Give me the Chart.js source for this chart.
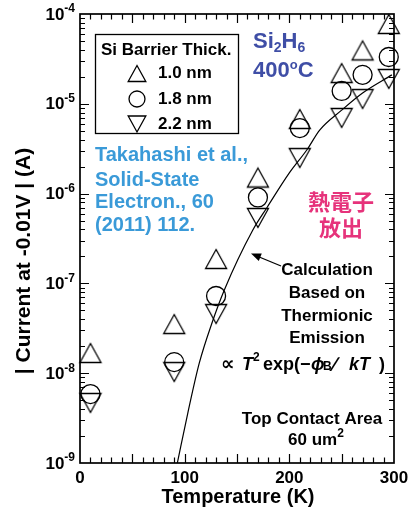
<!DOCTYPE html>
<html>
<head>
<meta charset="utf-8">
<script src="https://cdn.jsdelivr.net/npm/chart.js@4"></script>
<style>
  html, body { margin: 0; padding: 0; background: #fff; }
  canvas { display: block; }
</style>
</head>
<body>
<canvas id="chart" width="409" height="515"></canvas>
<script>
// Measurement temperatures (K)
const temperatures = [10, 90, 130, 170, 210, 250, 270, 295];
// |I| at -0.01 V (A) for each Si barrier thickness
const current10nm = [1.68e-8, 3.53e-8, 1.87e-7, 1.51e-6, 6.78e-6, 2.20e-5, 3.93e-5, 7.74e-5];
const current18nm = [5.86e-9, 1.33e-8, 7.24e-8, 9.06e-7, 5.37e-6, 1.39e-5, 2.10e-5, 3.32e-5];
const current22nm = [4.66e-9, 1.03e-8, 4.56e-8, 5.35e-7, 2.49e-6, 6.95e-6, 1.13e-5, 1.89e-5];
// Thermionic-emission calculation curve
const calcTemperatures = [93, 103, 114, 126, 138, 165, 179, 200, 217, 229, 250, 270, 298];
const calcCurrent = [1.0e-9, 3.6e-9, 1.3e-8, 3.6e-8, 8.5e-8, 3.9e-7, 7.1e-7, 1.7e-6, 3.1e-6, 5.1e-6, 8.5e-6, 1.32e-5, 2.1e-5];

const seriesLabels = ['1.0 nm', '1.8 nm', '2.2 nm'];
const legendTitle = 'Si Barrier Thick.';
const xTickValues = [0, 100, 200, 300];
const yTickExponents = [-4, -5, -6, -7, -8, -9];
const xAxisTitle = 'Temperature (K)';
const yAxisTitle = '| Current at -0.01V | (A)';

const FONT = '"Liberation Sans", Arial, "DejaVu Sans", sans-serif';
const CJK = '"Noto Sans CJK JP", "Noto Sans CJK SC", sans-serif';

function toPoints(xs, ys) { return xs.map((x, i) => ({ x: x, y: ys[i] })); }

// marker outlines drawn centred on their bounding box
function markerPath(g, kind, cx, cy, s) {
  const w = 21 * s, h = 19 * s, r = 9.5 * s;
  g.beginPath();
  if (kind === 'up') {
    g.moveTo(cx, cy - h / 2); g.lineTo(cx + w / 2, cy + h / 2); g.lineTo(cx - w / 2, cy + h / 2);
    g.closePath();
  } else if (kind === 'down') {
    g.moveTo(cx - w / 2, cy - h / 2); g.lineTo(cx + w / 2, cy - h / 2); g.lineTo(cx, cy + h / 2);
    g.closePath();
  } else {
    g.arc(cx, cy, r, 0, Math.PI * 2);
  }
}
function markerImage(kind) {
  const c = document.createElement('canvas');
  c.width = 26; c.height = 24;
  const g = c.getContext('2d');
  g.lineWidth = 1.3; g.strokeStyle = '#000'; g.lineJoin = 'miter';
  markerPath(g, kind, 13, 12, 1);
  g.stroke();
  return c;
}
const upImg = markerImage('up');
const downImg = markerImage('down');

function drawRich(ctx, parts, x, y) {
  // parts: [text, font, dy]
  let cx = x;
  for (const p of parts) {
    ctx.font = p[1];
    ctx.fillText(p[0], cx, y + (p[2] || 0));
    cx += ctx.measureText(p[0]).width;
  }
  return cx;
}
function richWidth(ctx, parts) {
  let w = 0;
  for (const p of parts) { ctx.font = p[1]; w += ctx.measureText(p[0]).width; }
  return w;
}

const framePlugin = {
  id: 'frame',
  beforeDatasetsDraw(chart) {
    const ctx = chart.ctx, a = chart.chartArea;
    const xs = chart.scales.x, ys = chart.scales.y;
    ctx.save();
    ctx.strokeStyle = '#000';
    ctx.lineWidth = 1.2;
    ctx.beginPath();
    // x ticks every 10 K, longer every 50 K
    for (let t = 10; t < 300; t += 10) {
      const px = Math.round(xs.getPixelForValue(t)) + 0.5;
      const len = (t % 50 === 0) ? 9 : 5.5;
      ctx.moveTo(px, a.bottom); ctx.lineTo(px, a.bottom - len);
      ctx.moveTo(px, a.top); ctx.lineTo(px, a.top + len);
    }
    // log ticks on left and right
    for (let e = -9; e < -4; e++) {
      for (let k = 1; k <= 9; k++) {
        const v = k * Math.pow(10, e);
        const py = Math.round(ys.getPixelForValue(v)) + 0.5;
        const len = (k === 1) ? 9 : 5;
        if (k === 1 && e === -9) continue;
        ctx.moveTo(a.left, py); ctx.lineTo(a.left + len, py);
        ctx.moveTo(a.right, py); ctx.lineTo(a.right - len, py);
      }
    }
    ctx.stroke();
    ctx.lineWidth = 1.7;
    ctx.strokeRect(a.left, a.top, a.right - a.left, a.bottom - a.top);
    ctx.restore();
  },
  afterDraw(chart) {
    const ctx = chart.ctx, a = chart.chartArea;
    const xs = chart.scales.x, ys = chart.scales.y;
    ctx.save();
    ctx.fillStyle = '#000';
    ctx.textBaseline = 'middle';

    // y tick labels 10^n
    for (const e of yTickExponents) {
      const py = ys.getPixelForValue(Math.pow(10, e));
      ctx.textAlign = 'right';
      ctx.font = 'bold 12px ' + FONT;
      const sup = '-' + Math.abs(e);
      const w2 = ctx.measureText(sup).width;
      ctx.fillText(sup, 75, py - 5);
      ctx.font = 'bold 17px ' + FONT;
      ctx.fillText('10', 75 - w2, py + 1);
    }
    // x tick labels
    ctx.textAlign = 'center';
    ctx.font = 'bold 17px ' + FONT;
    for (const v of xTickValues) {
      ctx.fillText(String(v), xs.getPixelForValue(v), 478);
    }
    // axis titles
    ctx.font = 'bold 20px ' + FONT;
    ctx.fillText(xAxisTitle, 238, 497);
    ctx.save();
    ctx.translate(24, 261);
    ctx.rotate(-Math.PI / 2);
    ctx.font = 'bold 21px ' + FONT;
    ctx.fillText(yAxisTitle, 0, 0);
    ctx.restore();

    // legend box
    ctx.lineWidth = 1.3;
    ctx.strokeStyle = '#000';
    ctx.strokeRect(95.5, 34.5, 143, 99);
    ctx.textAlign = 'left';
    ctx.font = 'bold 17px ' + FONT;
    ctx.fillText(legendTitle, 101, 50);
    const kinds = ['up', 'circle', 'down'];
    const rowY = [73.5, 99, 124];
    for (let i = 0; i < 3; i++) {
      markerPath(ctx, kinds[i], 137, rowY[i], 0.84);
      ctx.stroke();
      ctx.font = 'bold 17px ' + FONT;
      ctx.fillText(seriesLabels[i], 158, rowY[i]);
    }

    // growth condition
    ctx.fillStyle = '#3f4ea6';
    const big = 'bold 22px ' + FONT, sm = 'bold 14px ' + FONT;
    drawRich(ctx, [['Si', big], ['2', sm, 6], ['H', big], ['6', sm, 6]], 253, 42);
    drawRich(ctx, [['400', big], ['o', 'bold 13px ' + FONT, -6], ['C', big]], 253, 71);

    // reference
    ctx.fillStyle = '#3a9ad8';
    ctx.font = 'bold 20px ' + FONT;
    const ref = ['Takahashi et al.,', 'Solid-State', 'Electron., 60', '(2011) 112.'];
    const refY = [155, 180, 202, 225];
    ref.forEach((t, i) => ctx.fillText(t, 95, refY[i]));

    // Japanese note
    ctx.fillStyle = '#e6337b';
    ctx.textAlign = 'center';
    ctx.font = 'bold 22px ' + CJK;
    ctx.fillText('熱電子', 341, 202);
    ctx.fillText('放出', 341, 228);

    // calculation note
    ctx.fillStyle = '#000';
    ctx.font = 'bold 17px ' + FONT;
    const calc = ['Calculation', 'Based on', 'Thermionic', 'Emission'];
    const calcY = [270, 293, 316, 338];
    calc.forEach((t, i) => ctx.fillText(t, 327, calcY[i]));

    // arrow to the curve
    ctx.lineWidth = 1.3;
    ctx.beginPath();
    ctx.moveTo(281, 266); ctx.lineTo(258, 256.5);
    ctx.stroke();
    ctx.beginPath();
    const ang = Math.atan2(266 - 254, 281 - 251);
    const tipX = 251, tipY = 253.5;
    ctx.moveTo(tipX, tipY);
    ctx.lineTo(tipX + 10 * Math.cos(ang) - 4 * Math.sin(ang), tipY + 10 * Math.sin(ang) + 4 * Math.cos(ang));
    ctx.lineTo(tipX + 10 * Math.cos(ang) + 4 * Math.sin(ang), tipY + 10 * Math.sin(ang) - 4 * Math.cos(ang));
    ctx.closePath();
    ctx.fill();

    // formula: ∝ T² exp(−ϕB ∕ kT)
    ctx.textAlign = 'left';
    const b = 'bold 18px ' + FONT, bi = 'italic bold 18px ' + FONT, s = 'bold 12px ' + FONT;
    const fy = 365;
    ctx.font = 'bold 19px "DejaVu Sans", sans-serif';
    ctx.fillText('\u221D', 221, fy);
    ctx.font = bi; ctx.fillText('T', 242, fy);
    ctx.font = s; ctx.fillText('2', 253, fy - 7);
    ctx.font = b; ctx.fillText('exp(\u2212', 263, fy);
    ctx.font = bi; ctx.fillText('\u03D5', 311, fy);
    ctx.font = s; ctx.fillText('B', 323, fy + 2);
    ctx.font = 'bold 20px ' + FONT; ctx.fillText('\u2215', 333, fy);
    ctx.font = bi; ctx.fillText('kT', 349, fy);
    ctx.font = b; ctx.fillText(')', 379, fy);

    // contact area
    ctx.font = 'bold 17px ' + FONT;
    ctx.textAlign = 'center';
    ctx.fillText('Top Contact Area', 312, 419);
    ctx.textAlign = 'left';
    const parts = [['60 um', 'bold 17px ' + FONT], ['2', s, -6]];
    drawRich(ctx, parts, 316 - richWidth(ctx, parts) / 2, 440);
    ctx.restore();
  }
};

new Chart(document.getElementById('chart'), {
  type: 'line',
  data: {
    datasets: [
      {
        label: 'calculation',
        data: toPoints(calcTemperatures, calcCurrent),
        borderColor: '#000', borderWidth: 1.2,
        pointRadius: 0, fill: false,
        cubicInterpolationMode: 'monotone'
      },
      {
        label: seriesLabels[0],
        data: toPoints(temperatures, current10nm),
        showLine: false, pointStyle: upImg, pointRadius: 10,
        borderColor: '#000', backgroundColor: 'transparent', clip: false
      },
      {
        label: seriesLabels[1],
        data: toPoints(temperatures, current18nm),
        showLine: false, pointStyle: 'circle', pointRadius: 9.5, pointBorderWidth: 1.3,
        borderColor: '#000', backgroundColor: 'transparent', clip: false
      },
      {
        label: seriesLabels[2],
        data: toPoints(temperatures, current22nm),
        showLine: false, pointStyle: downImg, pointRadius: 10,
        borderColor: '#000', backgroundColor: 'transparent', clip: false
      }
    ]
  },
  options: {
    responsive: false,
    animation: false,
    events: [],
    layout: { padding: { left: 80, top: 14, right: 15, bottom: 52 } },
    plugins: { legend: { display: false }, tooltip: { enabled: false } },
    scales: {
      x: { type: 'linear', min: 0, max: 300, display: false },
      y: { type: 'logarithmic', min: 1e-9, max: 1e-4, display: false }
    }
  },
  plugins: [framePlugin]
});
</script>
</body>
</html>
